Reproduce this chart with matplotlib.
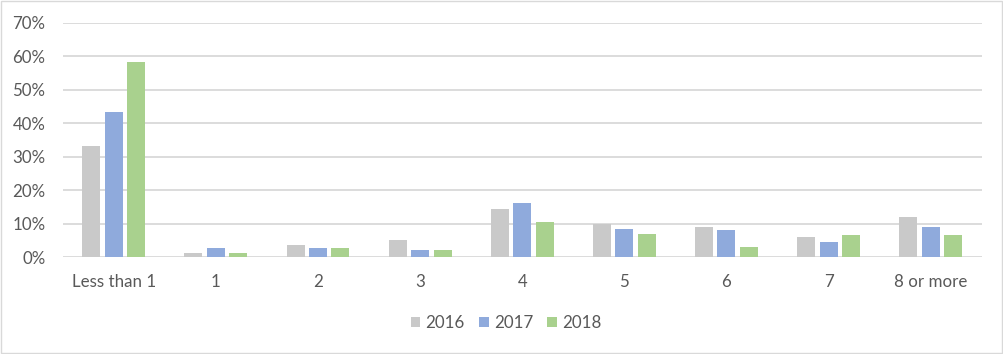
import matplotlib
matplotlib.use("Agg")
import matplotlib.pyplot as plt
import numpy as np
from matplotlib.patches import Rectangle

categories = ["Less than 1", "1", "2", "3", "4", "5", "6", "7", "8 or more"]
series_names = ["2016", "2017", "2018"]
values_2016 = [33.2, 1.3, 3.7, 5.2, 14.4, 10.0, 9.1, 6.1, 12.0]
values_2017 = [43.4, 2.8, 2.8, 2.2, 16.2, 8.5, 8.2, 4.6, 9.1]
values_2018 = [58.3, 1.3, 2.8, 2.2, 10.5, 7.0, 3.1, 6.7, 6.7]
yticks = [0, 10, 20, 30, 40, 50, 60, 70]

colors = ["#C9C9C9", "#8FAADC", "#A9D18E"]
text_color = "#595959"

plt.rcParams['font.family'] = ['Lato', 'DejaVu Sans']

fig = plt.figure(figsize=(10.04, 3.54), dpi=100)
ax = fig.add_axes([0.0625, 0.2732, 0.9153, 0.6627])

x = np.arange(len(categories))
bw = 0.176
step = 0.22
for i, (vals, name) in enumerate(zip([values_2016, values_2017, values_2018], series_names)):
    ax.bar(x + (i - 1) * step, vals, width=bw, color=colors[i], label=name, zorder=3)

ax.set_xlim(-0.5, len(categories) - 0.5)
ax.set_ylim(0, 70)
ax.set_yticks(yticks)
ax.set_yticklabels([f"{t}%" for t in yticks])
ax.set_xticks(x)
ax.set_xticklabels(categories)
ax.grid(axis='y', color="#D9D9D9", linewidth=1.3, zorder=0)
for s in ax.spines.values():
    s.set_visible(False)
ax.tick_params(axis='both', length=0, colors=text_color, labelsize=12.2)
ax.tick_params(axis='y', pad=12.5)
ax.tick_params(axis='x', pad=12)

leg = fig.legend(loc='center', bbox_to_anchor=(0.504, 0.088), ncol=3, frameon=False,
                 fontsize=12.2, handlelength=0.57, handleheight=0.57, handletextpad=0.3,
                 columnspacing=0.85, labelcolor=text_color)

fig.patches.append(Rectangle((0.001, 0.003), 0.997, 0.994, transform=fig.transFigure,
                             fill=False, edgecolor="#D9D9D9", linewidth=1))

fig.savefig("out.png", dpi=100)
